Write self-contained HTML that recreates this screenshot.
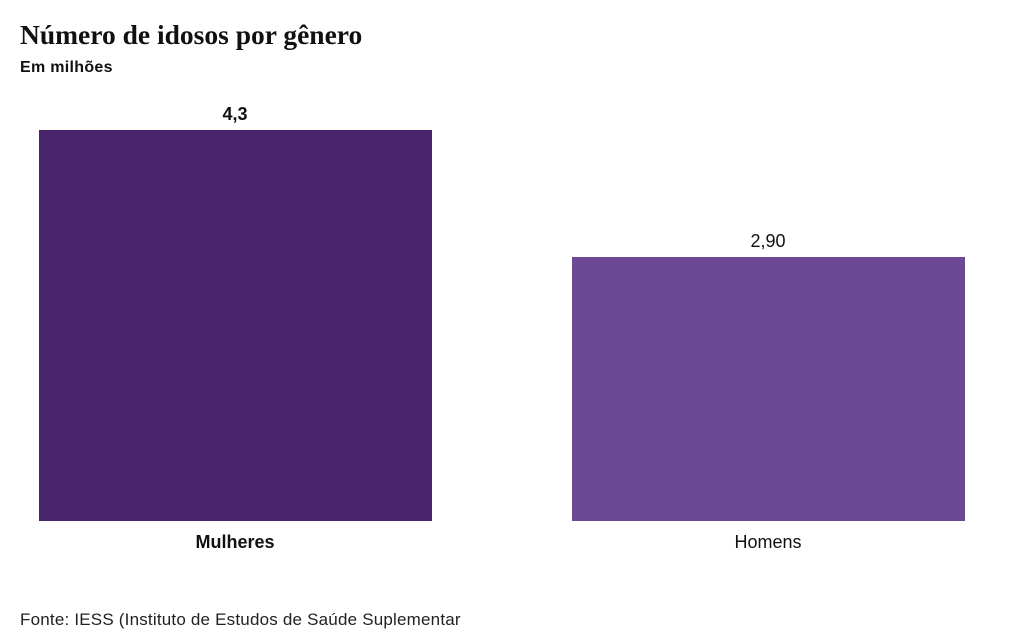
<!DOCTYPE html>
<html><head><meta charset="utf-8"><style>
body{margin:0;width:1022px;height:641px;background:#fff;position:relative;font-family:"Liberation Sans",sans-serif;color:#111;overflow:hidden}
.a{position:absolute;white-space:nowrap}
.t{left:20px;top:19px;font-family:"Liberation Serif",serif;font-weight:bold;font-size:27.5px}
.s{left:20px;top:59px;font-size:16px;font-weight:bold;letter-spacing:0.3px}
.bar{position:absolute}
.v{font-size:18px;text-align:center;width:200px}
.l{font-size:18px;text-align:center;width:200px}
.f{left:20px;top:610px;font-size:17px;color:#222;letter-spacing:0.2px}
</style></head><body>
<div class="a t">Número de idosos por gênero</div>
<div class="a s">Em milhões</div>
<div class="bar" style="left:39px;top:130px;width:393px;height:391px;background:#4a256e"></div>
<div class="bar" style="left:572px;top:257px;width:393px;height:264px;background:#6d4895"></div>
<div class="a v" style="left:135px;top:104px;font-weight:bold">4,3</div>
<div class="a v" style="left:668px;top:231px">2,90</div>
<div class="a l" style="left:135px;top:532px;font-weight:bold">Mulheres</div>
<div class="a l" style="left:668px;top:532px">Homens</div>
<div class="a f">Fonte: IESS (Instituto de Estudos de Saúde Suplementar</div>
</body></html>
